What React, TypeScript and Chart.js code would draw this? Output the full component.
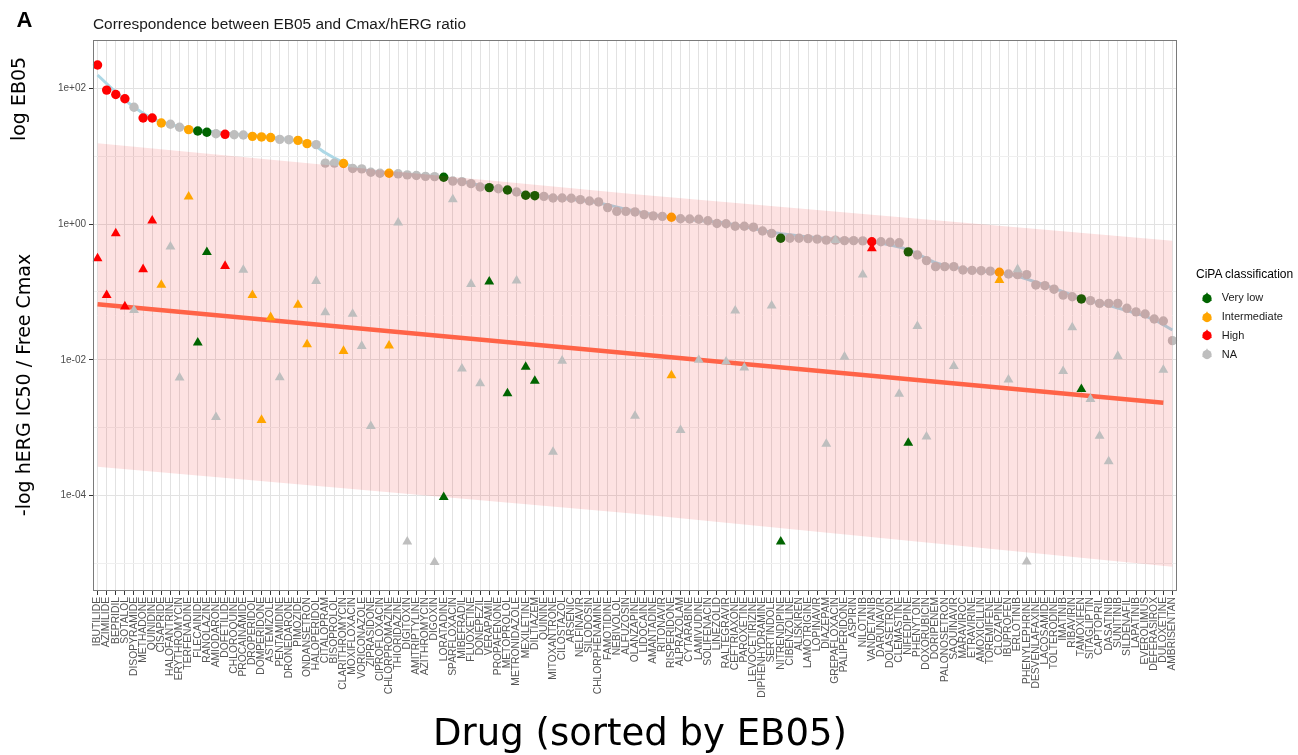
import React, { useEffect, useRef } from "react";
import { Chart, registerables } from "chart.js";

Chart.register(...registerables);

// ---------- DATA ----------
const drugs = [
  "IBUTILIDE", "AZIMILIDE", "BEPRIDIL", "SOTALOL", "DISOPYRAMIDE", "METHADONE", "QUINIDINE", "CISAPRIDE",
  "HALOFANTRINE", "ERYTHROMYCIN", "TERFENADINE", "FLECAINIDE", "RANOLAZINE", "AMIODARONE", "DOFETILIDE",
  "CHLOROQUINE", "PROCAINAMIDE", "DROPERIDOL", "DOMPERIDONE", "ASTEMIZOLE", "PENTAMIDINE", "DRONEDARONE",
  "PIMOZIDE", "ONDANSETRON", "HALOPERIDOL", "CITALOPRAM", "BISOPROLOL", "CLARITHROMYCIN", "MOXIFLOXACIN",
  "VORICONAZOLE", "ZIPRASIDONE", "CIPROFLOXACIN", "CHLORPROMAZINE", "THIORIDAZINE", "DIGITOXIN",
  "AMITRIPTYLINE", "AZITHROMYCIN", "DIGOXIN", "LORATADINE", "SPARFLOXACIN", "MIBEFRADIL", "FLUOXETINE",
  "DONEPEZIL", "VERAPAMIL", "PROPAFENONE", "METOPROLOL", "METRONIDAZOLE", "MEXILETINE", "DILTIAZEM",
  "QUININE", "MITOXANTRONE", "CILOSTAZOL", "ARSENIC", "NELFINAVIR", "SILODOSIN", "CHLORPHENAMINE",
  "FAMOTIDINE", "NEBIVOLOL", "ALFUZOSIN", "OLANZAPINE", "LIDOCAINE", "AMANTADINE", "RITONAVIR",
  "RISPERIDONE", "ALPRAZOLAM", "CYTARABINE", "LAMIVUDINE", "SOLIFENACIN", "LINEZOLID", "RALTEGRAVIR",
  "CEFTRIAXONE", "PAROXETINE", "LEVOCETIRIZINE", "DIPHENHYDRAMINE", "SERTINDOLE", "NITRENDIPINE",
  "CIBENZOLINE", "ALISKIREN", "LAMOTRIGINE", "LOPINAVIR", "DIAZEPAM", "GREPAFLOXACIN", "PALIPERIDONE",
  "ASPIRIN", "NILOTINIB", "VANDETANIB", "DARUNAVIR", "DOLASETRON", "CLEMASTINE", "NIFEDIPINE",
  "PHENYTOIN", "DOXORUBICIN", "DORIPENEM", "PALONOSETRON", "SAQUINAVIR", "MARAVIROC", "ETRAVIRINE",
  "AMOXICILLIN", "TOREMIFENE", "CLOZAPINE", "IBUPROFEN", "ERLOTINIB", "PHENYLEPHRINE", "DESVENLAFAXINE",
  "LACOSAMIDE", "TOLTERODINE", "IMATINIB", "RIBAVIRIN", "TAMOXIFEN", "SITAGLIPTIN", "CAPTOPRIL",
  "DASATINIB", "SUNITINIB", "SILDENAFIL", "LAPATINIB", "EVEROLIMUS", "DEFERASIROX", "DULOXETINE",
  "AMBRISENTAN",
];

const cipaClass = [
  "High", "High", "High", "High", "NA", "High", "High", "Intermediate",
  "NA", "NA", "Intermediate", "Very low", "Very low", "NA", "High",
  "NA", "NA", "Intermediate", "Intermediate", "Intermediate", "NA", "NA",
  "Intermediate", "Intermediate", "NA", "NA", "NA", "Intermediate", "NA",
  "NA", "NA", "NA", "Intermediate", "NA", "NA",
  "NA", "NA", "NA", "Very low", "NA", "NA", "NA",
  "NA", "Very low", "NA", "Very low", "NA", "Very low", "Very low",
  "NA", "NA", "NA", "NA", "NA", "NA", "NA",
  "NA", "NA", "NA", "NA", "NA", "NA", "NA",
  "Intermediate", "NA", "NA", "NA", "NA", "NA", "NA",
  "NA", "NA", "NA", "NA", "NA", "Very low",
  "NA", "NA", "NA", "NA", "NA", "NA", "NA",
  "NA", "NA", "High", "NA", "NA", "NA", "Very low",
  "NA", "NA", "NA", "NA", "NA", "NA", "NA",
  "NA", "NA", "Intermediate", "NA", "NA", "NA", "NA",
  "NA", "NA", "NA", "NA", "Very low", "NA", "NA",
  "NA", "NA", "NA", "NA", "NA", "NA", "NA",
  "NA",
];

// EB05 (circles)
const eb05 = [
  220, 94, 81, 70, 52.5, 36.5, 36.5, 30.8,
  29.5, 26.7, 24.6, 23.5, 22.5, 21.4, 21.0,
  20.7, 20.5, 19.6, 19.2, 18.8, 17.7, 17.5,
  17.1, 15.3, 14.8, 7.9, 7.9, 7.8, 6.6,
  6.5, 5.8, 5.6, 5.6, 5.5, 5.3,
  5.2, 5.05, 5.0, 4.9, 4.3, 4.22, 3.94,
  3.52, 3.44, 3.31, 3.18, 2.97, 2.66, 2.62,
  2.56, 2.42, 2.42, 2.4, 2.29, 2.19, 2.12,
  1.75, 1.54, 1.54, 1.51, 1.38, 1.32, 1.30,
  1.26, 1.20, 1.19, 1.18, 1.12, 1.02, 1.01,
  0.93, 0.93, 0.90, 0.79, 0.73, 0.618,
  0.618, 0.618, 0.61, 0.60, 0.58, 0.58, 0.57,
  0.57, 0.565, 0.55, 0.55, 0.54, 0.53, 0.39,
  0.35, 0.29, 0.236, 0.236, 0.236, 0.211, 0.208,
  0.206, 0.203, 0.195, 0.184, 0.18, 0.18, 0.127,
  0.124, 0.11, 0.090, 0.085, 0.079, 0.0745, 0.068,
  0.068, 0.068, 0.0575, 0.051, 0.0474, 0.040, 0.0374,
  0.0192,
];

// hERG IC50 / free Cmax ratio (triangles), null = not available
const hergCmax = [
  0.313, 0.090, 0.73, 0.061, 0.054, 0.216, 1.12, 0.127,
  0.465, 0.00547, 2.54, 0.0179, 0.385, 0.00143, 0.241,
  null, 0.211, 0.090, 0.0013, 0.0424, 0.00553, null,
  0.0646, 0.0169, 0.145, 0.050, null, 0.0135, 0.0474,
  0.016, 0.00106, null, 0.0162, 1.05, 2.1e-5,
  null, null, 1.05e-5, 9.5e-5, 2.3, 0.0074, 0.131,
  0.0045, 0.142, null, 0.0032, 0.147, 0.0079, 0.0049,
  null, 0.00044, 0.0097, null, null, null, null,
  null, null, null, 0.0015, null, null, null,
  0.0059, 0.00092, null, 0.0100, null, null, 0.0094,
  0.053, 0.0077, null, null, 0.063, 2.1e-5,
  null, null, null, null, 0.00058, 0.58, 0.0111,
  null, 0.18, 0.44, null, null, 0.00315, 0.0006,
  0.0313, 0.00074, null, null, 0.0081, null, null,
  null, null, 0.150, 0.0051, 0.216, 1.07e-5, null,
  null, null, 0.0068, 0.030, 0.0037, 0.00265, 0.00076,
  0.00032, 0.0114, null, null, null, null, 0.0071,
  null,
];

// smoothed EB05 trend (light blue curve)
const smoothAt = [
  "IBUTILIDE", "BEPRIDIL", "DISOPYRAMIDE", "QUINIDINE", "ERYTHROMYCIN", "DOFETILIDE", "ASTEMIZOLE",
  "ONDANSETRON", "HALOPERIDOL", "CITALOPRAM", "BISOPROLOL", "CLARITHROMYCIN", "MOXIFLOXACIN",
  "CHLORPROMAZINE", "DIGOXIN", "VERAPAMIL", "QUININE", "CHLORPHENAMINE", "OLANZAPINE", "ALPRAZOLAM",
  "RALTEGRAVIR", "SERTINDOLE", "LOPINAVIR", "VANDETANIB", "NIFEDIPINE", "DORIPENEM", "ETRAVIRINE",
  "IBUPROFEN", "LACOSAMIDE", "TAMOXIFEN", "SUNITINIB", "DEFERASIROX", "AMBRISENTAN",
];
const smoothValues = [
  157, 88, 53, 36, 27.2, 21.9, 19,
  15.5, 13.8, 11.2, 9.4, 8.1, 6.9,
  5.6, 5.0, 3.5, 2.57, 2.04, 1.55, 1.2,
  1.03, 0.76, 0.63, 0.55, 0.42, 0.27, 0.21,
  0.184, 0.126, 0.081, 0.058, 0.039, 0.0275,
];

// linear fit of the ratio (red line) and its band (pink ribbon)
const fitAt = ["IBUTILIDE", "DULOXETINE"];
const fitValues = [0.0659, 0.00234];
const bandAt = ["IBUTILIDE", "OLANZAPINE", "AMBRISENTAN"];
const bandUpper = [15.5, 2.75, 0.57];
const bandLower = [2.67e-4, 5.4e-5, 9.0e-6];

const yExponents = [-5, -4, -3, -2, -1, 0, 1, 2];

const classOrder = ["Very low", "Intermediate", "High", "NA"];
const classColors: Record<string, string> = {
  "Very low": "#006400",
  Intermediate: "#FFA500",
  High: "#FF0000",
  NA: "#BEBEBE",
};

const SANS = "'Liberation Sans', Arial, Helvetica, sans-serif";
const DEJAVU = "'DejaVu Sans', sans-serif";

const fmtExp = (v: number) => {
  const e = Math.round(Math.log10(v));
  const s = e < 0 ? "-" : "+";
  const a = Math.abs(e);
  return "1e" + s + (a < 10 ? "0" + a : String(a));
};
const isMajor = (v: number) => Math.round(Math.log10(v)) % 2 === 0;

const panelBorder = {
  id: "panelBorder",
  afterDraw(chart: any) {
    const { ctx, chartArea: a } = chart;
    ctx.save();
    ctx.strokeStyle = "#7a7a7a";
    ctx.lineWidth = 1;
    ctx.strokeRect(a.left + 0.5, a.top + 0.5, a.right - a.left - 1, a.bottom - a.top - 1);
    ctx.restore();
  },
};

function LegendGlyph({ color }: { color: string }) {
  const c = 6;
  const r = 5.7;
  const pts = [
    [c, c - r],
    [c - r * 0.866, c + r * 0.5],
    [c + r * 0.866, c + r * 0.5],
  ]
    .map((p) => p.join(","))
    .join(" ");
  return (
    <svg width={12} height={12} style={{ display: "block" }}>
      <circle cx={c} cy={c + 0.6} r={4.6} fill={color} />
      <polygon points={pts} fill={color} />
    </svg>
  );
}

export default function App() {
  const canvasRef = useRef<HTMLCanvasElement>(null);

  useEffect(() => {
    const colors = cipaClass.map((c) => classColors[c]);
    const chart = new Chart(canvasRef.current as HTMLCanvasElement, {
      type: "line",
      data: {
        labels: drugs,
        datasets: [
          {
            label: "smooth",
            data: smoothAt.map((d, i) => ({ x: d, y: smoothValues[i] })) as any,
            borderColor: "#ADD8E6",
            borderWidth: 3,
            pointRadius: 0,
            cubicInterpolationMode: "monotone",
            fill: false,
            order: 5,
          },
          {
            label: "EB05",
            data: eb05,
            showLine: false,
            pointStyle: "circle",
            pointRadius: 4.7,
            pointBackgroundColor: colors,
            pointBorderWidth: 0,
            borderColor: "transparent",
            order: 4,
          },
          {
            label: "bandUpper",
            data: bandAt.map((d, i) => ({ x: d, y: bandUpper[i] })) as any,
            borderColor: "transparent",
            borderWidth: 0,
            pointRadius: 0,
            fill: "+1",
            backgroundColor: "rgba(240, 30, 30, 0.13)",
            order: 3,
          },
          {
            label: "bandLower",
            data: bandAt.map((d, i) => ({ x: d, y: bandLower[i] })) as any,
            borderColor: "transparent",
            borderWidth: 0,
            pointRadius: 0,
            fill: false,
            order: 3,
          },
          {
            label: "fit",
            data: fitAt.map((d, i) => ({ x: d, y: fitValues[i] })) as any,
            borderColor: "#FF6347",
            borderWidth: 4.5,
            pointRadius: 0,
            fill: false,
            order: 2,
          },
          {
            label: "ratio",
            data: hergCmax as any,
            showLine: false,
            pointStyle: "triangle",
            pointRadius: 5.7,
            pointBackgroundColor: colors,
            pointBorderWidth: 0,
            borderColor: "transparent",
            order: 1,
          },
        ],
      },
      options: {
        responsive: false,
        animation: false,
        events: [],
        devicePixelRatio: 1,
        layout: { padding: { top: 40, right: 121, bottom: 0, left: 0 } },
        plugins: {
          legend: { display: false },
          tooltip: { enabled: false },
          title: { display: false },
        },
        scales: {
          x: {
            type: "category",
            offset: true,
            border: { display: false },
            grid: {
              color: "#E2E2E2",
              lineWidth: 1,
              drawTicks: true,
              tickLength: 4,
              tickColor: "#333333",
              offset: false,
            },
            ticks: {
              autoSkip: false,
              minRotation: 90,
              maxRotation: 90,
              padding: 2,
              color: "#555555",
              font: { family: SANS, size: 10.3 },
            },
            afterFit: (scale: any) => {
              scale.height = 164;
            },
          },
          y: {
            type: "logarithmic",
            min: 3.95e-6,
            max: 514,
            border: { display: false },
            grid: {
              color: (ctx: any) => (ctx.tick && isMajor(ctx.tick.value) ? "#E2E2E2" : "#EFEFEF"),
              lineWidth: 1,
              drawTicks: true,
              tickLength: 4,
              tickColor: (ctx: any) =>
                ctx.tick && isMajor(ctx.tick.value) ? "#333333" : "rgba(0,0,0,0)",
            },
            ticks: {
              padding: 3,
              color: "#4D4D4D",
              font: { family: SANS, size: 10 },
              autoSkip: false,
              callback: (v: any) => (isMajor(Number(v)) ? fmtExp(Number(v)) : ""),
            },
            afterBuildTicks: (scale: any) => {
              scale.ticks = yExponents.map((e) => ({ value: Math.pow(10, e) }));
            },
            afterFit: (scale: any) => {
              scale.width = 93;
            },
          },
        },
      },
      plugins: [panelBorder],
    } as any);
    return () => chart.destroy();
  }, []);

  const abs = (s: React.CSSProperties): React.CSSProperties => ({
    position: "absolute",
    whiteSpace: "nowrap",
    lineHeight: 1,
    margin: 0,
    ...s,
  });

  const legendRowsY = [297.7, 316.7, 335.3, 354.3];

  return (
    <div
      style={{
        position: "absolute",
        left: 0,
        top: 0,
        width: 1298,
        height: 755,
        background: "#ffffff",
        overflow: "hidden",
      }}
    >
      <canvas
        ref={canvasRef}
        width={1298}
        height={755}
        style={{ position: "absolute", left: 0, top: 0, width: 1298, height: 755 }}
      />
      <div style={abs({ left: 16.5, top: 8.7, fontFamily: SANS, fontSize: 22, fontWeight: 700, color: "#000" })}>A</div>
      <div style={abs({ left: 93, top: 16, fontFamily: SANS, fontSize: 15.4, color: "#1a1a1a" })}>
        Correspondence between EB05 and Cmax/hERG ratio
      </div>
      <div
        style={abs({
          left: 17.8,
          top: 99,
          transform: "translate(-50%, -50%) rotate(-90deg)",
          fontFamily: DEJAVU,
          fontSize: 19,
          color: "#000",
        })}
      >
        log EB05
      </div>
      <div
        style={abs({
          left: 22.9,
          top: 384.5,
          transform: "translate(-50%, -50%) rotate(-90deg)",
          fontFamily: DEJAVU,
          fontSize: 19,
          color: "#000",
        })}
      >
        -log hERG IC50 / Free Cmax
      </div>
      <div
        style={abs({
          left: 640,
          top: 713.5,
          transform: "translateX(-50%)",
          fontFamily: DEJAVU,
          fontSize: 37,
          color: "#000",
        })}
      >
        Drug (sorted by EB05)
      </div>
      <div style={abs({ left: 1196, top: 268.1, fontFamily: SANS, fontSize: 12, color: "#000" })}>
        CiPA classification
      </div>
      {classOrder.map((c, i) => (
        <React.Fragment key={c}>
          <div style={abs({ left: 1201.3, top: legendRowsY[i] - 6 })}>
            <LegendGlyph color={classColors[c]} />
          </div>
          <div
            style={abs({
              left: 1221.7,
              top: legendRowsY[i] - 5.4,
              fontFamily: SANS,
              fontSize: 11,
              color: "#1a1a1a",
            })}
          >
            {c}
          </div>
        </React.Fragment>
      ))}
    </div>
  );
}
